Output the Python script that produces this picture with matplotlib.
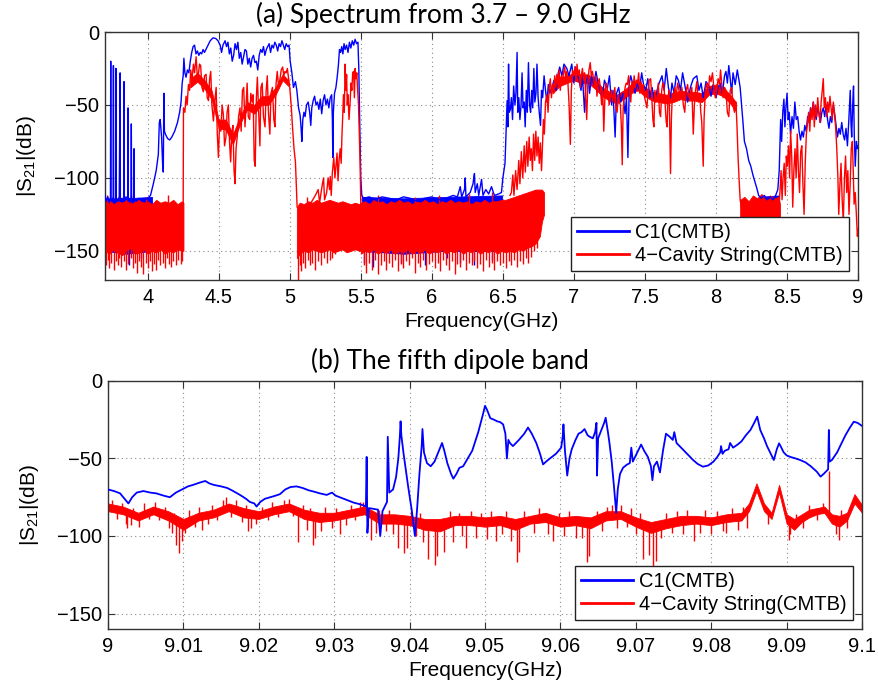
import matplotlib
matplotlib.use('Agg')
import matplotlib.pyplot as plt
import numpy as np

plt.rcParams['font.family'] = ['Liberation Sans', 'DejaVu Sans']
plt.rcParams['mathtext.default'] = 'regular'

BLUE = '#0000ff'
RED = '#ff0000'

# ---------------- (a) 3.7 - 9.0 GHz ----------------
# C1 trace, (GHz, dB)
c1_a = [
    (3.700, -112), (3.710, -116), (3.720, -113), (3.730, -117), (3.738, -114), (3.740, -20), (3.742, -115),
    (3.750, -116), (3.757, -113), (3.759, -23), (3.761, -115), (3.768, -117), (3.775, -114), (3.777, -25),
    (3.779, -115), (3.790, -116), (3.800, -113), (3.806, -28), (3.808, -116), (3.820, -114), (3.832, -115),
    (3.834, -34), (3.836, -116), (3.848, -113), (3.860, -115), (3.862, -52), (3.864, -116), (3.875, -114),
    (3.883, -116), (3.885, -63), (3.887, -115), (3.895, -117), (3.902, -113), (3.904, -80), (3.906, -115),
    (3.920, -116), (3.940, -114), (3.960, -116), (3.980, -115), (4.000, -114), (4.020, -112), (4.040, -104),
    (4.060, -95), (4.075, -84), (4.082, -62), (4.088, -60), (4.093, -66), (4.098, -72), (4.105, -90),
    (4.110, -96), (4.114, -42), (4.118, -68), (4.125, -70), (4.140, -73), (4.155, -74), (4.170, -72),
    (4.190, -68), (4.210, -62), (4.225, -55), (4.235, -48), (4.243, -35), (4.250, -30), (4.255, -18),
    (4.262, -28), (4.270, -31), (4.280, -26), (4.290, -28), (4.300, -20), (4.310, -14), (4.320, -10),
    (4.330, -9), (4.340, -15), (4.350, -13), (4.360, -16), (4.370, -14), (4.380, -15), (4.390, -12),
    (4.400, -14), (4.420, -10), (4.440, -6), (4.460, -4), (4.480, -4.5), (4.495, -6), (4.510, -9),
    (4.520, -14), (4.530, -9), (4.545, -6), (4.555, -10), (4.565, -7), (4.575, -15), (4.585, -11),
    (4.595, -20), (4.605, -16), (4.615, -8), (4.625, -12), (4.635, -7), (4.645, -18), (4.655, -14),
    (4.665, -22), (4.675, -17), (4.685, -12), (4.695, -13), (4.705, -22), (4.715, -18), (4.725, -24),
    (4.735, -18), (4.745, -16), (4.755, -21), (4.765, -20), (4.775, -26), (4.785, -16), (4.795, -12),
    (4.805, -14), (4.815, -10), (4.825, -16), (4.835, -12), (4.845, -10), (4.855, -8), (4.865, -14),
    (4.875, -9), (4.885, -11), (4.895, -7), (4.905, -9), (4.915, -13), (4.925, -8), (4.935, -10),
    (4.945, -6), (4.955, -9), (4.965, -12), (4.975, -8), (4.985, -10), (4.995, -9), (5.003, -20),
    (5.015, -28), (5.026, -38), (5.040, -34), (5.050, -40), (5.062, -52), (5.073, -57), (5.080, -66),
    (5.085, -75), (5.092, -60), (5.100, -55), (5.108, -58), (5.118, -50), (5.130, -48), (5.140, -55),
    (5.148, -64), (5.155, -52), (5.165, -47), (5.175, -44), (5.185, -50), (5.195, -48), (5.205, -53),
    (5.215, -46), (5.225, -56), (5.235, -47), (5.245, -43), (5.255, -50), (5.265, -46), (5.275, -52),
    (5.285, -45), (5.295, -43), (5.300, -60), (5.303, -86), (5.307, -55), (5.315, -42), (5.325, -38),
    (5.335, -30), (5.343, -22), (5.350, -12), (5.358, -14), (5.366, -10), (5.374, -15), (5.382, -8),
    (5.390, -12), (5.400, -9), (5.410, -14), (5.420, -7), (5.430, -11), (5.440, -6), (5.450, -9),
    (5.460, -5), (5.470, -8), (5.480, -7), (5.486, -25), (5.493, -65), (5.500, -100), (5.507, -112),
    (5.520, -114), (5.560, -113), (5.600, -115), (5.650, -113), (5.700, -114), (5.750, -115), (5.800, -113),
    (5.850, -114), (5.900, -116), (5.950, -114), (6.000, -113), (6.050, -115), (6.100, -114), (6.150, -112),
    (6.180, -113), (6.200, -106), (6.210, -113), (6.230, -108), (6.235, -100), (6.240, -113), (6.270, -110),
    (6.290, -104), (6.295, -100), (6.300, -97), (6.305, -110), (6.320, -104), (6.330, -112), (6.350, -101),
    (6.360, -112), (6.380, -108), (6.400, -111), (6.420, -106), (6.440, -112), (6.470, -111), (6.490, -110),
    (6.500, -100), (6.515, -90), (6.525, -60), (6.530, -47), (6.535, -65), (6.540, -22), (6.545, -55),
    (6.553, -53), (6.560, -45), (6.568, -60), (6.576, -37), (6.585, -50), (6.592, -42), (6.600, -14),
    (6.605, -55), (6.612, -45), (6.620, -60), (6.628, -50), (6.635, -28), (6.642, -52), (6.650, -48),
    (6.657, -65), (6.665, -40), (6.672, -55), (6.680, -21), (6.688, -50), (6.695, -55), (6.703, -40),
    (6.710, -52), (6.718, -25), (6.725, -48), (6.733, -42), (6.740, -22), (6.748, -45), (6.756, -55),
    (6.765, -64), (6.772, -40), (6.780, -45), (6.790, -30), (6.800, -40), (6.810, -48), (6.820, -36),
    (6.830, -42), (6.845, -38), (6.860, -33), (6.875, -40), (6.890, -28), (6.900, -24), (6.915, -30),
    (6.930, -22), (6.950, -25), (6.965, -30), (6.985, -22), (7.000, -35), (7.010, -24), (7.020, -28),
    (7.035, -32), (7.050, -40), (7.060, -30), (7.075, -55), (7.085, -35), (7.100, -30), (7.110, -42),
    (7.125, -30), (7.140, -36), (7.155, -27), (7.170, -35), (7.185, -40), (7.200, -45), (7.215, -33),
    (7.235, -39), (7.250, -30), (7.265, -50), (7.275, -40), (7.290, -72), (7.300, -42), (7.315, -38),
    (7.330, -48), (7.345, -42), (7.360, -56), (7.370, -45), (7.380, -86), (7.390, -35), (7.400, -30),
    (7.415, -36), (7.430, -42), (7.445, -35), (7.460, -40), (7.477, -28), (7.490, -36), (7.505, -40),
    (7.520, -32), (7.535, -45), (7.550, -38), (7.570, -48), (7.585, -40), (7.600, -35), (7.620, -30),
    (7.635, -40), (7.650, -25), (7.665, -38), (7.680, -45), (7.690, -35), (7.705, -42), (7.720, -30),
    (7.735, -33), (7.750, -40), (7.765, -28), (7.780, -36), (7.800, -48), (7.820, -38), (7.840, -32),
    (7.865, -30), (7.880, -40), (7.895, -35), (7.910, -45), (7.930, -34), (7.950, -37), (7.965, -44),
    (7.980, -36), (8.000, -45), (8.015, -38), (8.030, -35), (8.045, -42), (8.060, -30), (8.070, -27),
    (8.080, -35), (8.090, -23), (8.100, -32), (8.110, -42), (8.120, -28), (8.135, -36), (8.150, -26),
    (8.160, -32), (8.170, -38), (8.180, -50), (8.190, -62), (8.200, -75), (8.215, -80), (8.230, -88),
    (8.245, -92), (8.260, -98), (8.275, -103), (8.290, -108), (8.300, -112), (8.320, -114), (8.340, -112),
    (8.360, -115), (8.380, -113), (8.400, -115), (8.420, -112), (8.435, -108), (8.445, -95), (8.455, -60),
    (8.462, -75), (8.470, -55), (8.478, -46), (8.485, -65), (8.492, -52), (8.500, -42), (8.508, -60),
    (8.515, -55), (8.525, -70), (8.535, -58), (8.545, -66), (8.555, -48), (8.565, -60), (8.575, -58),
    (8.585, -68), (8.595, -74), (8.605, -68), (8.615, -72), (8.625, -64), (8.635, -68), (8.645, -58),
    (8.655, -62), (8.665, -52), (8.675, -56), (8.685, -48), (8.695, -55), (8.705, -60), (8.715, -52),
    (8.725, -56), (8.735, -62), (8.745, -55), (8.755, -52), (8.765, -58), (8.775, -50), (8.785, -60),
    (8.795, -66), (8.805, -58), (8.815, -62), (8.825, -50), (8.835, -56), (8.845, -64), (8.855, -72),
    (8.865, -66), (8.875, -70), (8.885, -62), (8.895, -70), (8.905, -74), (8.915, -66), (8.925, -78),
    (8.935, -60), (8.945, -40), (8.950, -62), (8.955, -72), (8.962, -50), (8.968, -37), (8.973, -70),
    (8.980, -92), (8.988, -75), (8.995, -80), (9.000, -78),
]

# C1 noise floor (GHz, upper dB, lower dB)
c1_a_floor = [
    [(3.700, -114, -150), (3.850, -114, -152), (4.030, -113, -150)],
    [(5.507, -113, -150), (5.800, -114, -152), (6.100, -113, -150), (6.495, -112, -150)],
    [(8.300, -113, -145), (8.445, -112, -145)],
]
c1_a_spikes = [(3.868, -160), (3.950, -155), (5.525, -158), (5.587, -161), (5.780, -158),
               (5.950, -160), (6.110, -155), (6.200, -158), (6.300, -160), (6.420, -156)]

# 4-cavity string trace, (GHz, dB); None separates pieces
str_a = [
    (4.250, -118), (4.252, -52), (4.262, -55), (4.270, -44), (4.278, -50), (4.287, -36), (4.295, -40),
    (4.303, -26), (4.312, -33), (4.322, -22), (4.330, -28), (4.341, -17), (4.349, -30), (4.357, -29),
    (4.365, -22), (4.373, -23), (4.382, -38), (4.392, -41), (4.400, -30), (4.411, -29), (4.419, -45),
    (4.428, -47), (4.436, -32), (4.444, -27), (4.452, -50), (4.463, -61), (4.472, -48), (4.482, -38),
    (4.490, -70), (4.498, -86), (4.506, -62), (4.515, -68), (4.524, -50), (4.533, -57), (4.541, -78),
    (4.551, -72), (4.559, -55), (4.568, -50), (4.576, -75), (4.584, -89), (4.592, -70), (4.600, -64),
    (4.608, -95), (4.615, -104), (4.622, -80), (4.630, -72), (4.640, -58), (4.650, -52), (4.658, -68),
    (4.667, -40), (4.676, -38), (4.685, -65), (4.693, -50), (4.700, -35), (4.708, -58), (4.718, -60),
    (4.726, -42), (4.735, -48), (4.742, -43), (4.750, -88), (4.757, -92), (4.765, -45), (4.772, -31),
    (4.780, -52), (4.790, -78), (4.797, -38), (4.806, -35), (4.815, -58), (4.826, -65), (4.834, -40),
    (4.842, -30), (4.850, -55), (4.860, -70), (4.868, -42), (4.878, -38), (4.888, -60), (4.896, -65),
    (4.904, -35), (4.912, -27), (4.922, -38), (4.930, -33), (4.940, -26), (4.950, -24), (4.958, -30),
    (4.966, -27), (4.975, -28), (4.983, -25), (4.992, -32), (5.000, -38), (5.010, -50), (5.020, -66),
    (5.030, -80), (5.040, -89), (5.046, -105), (5.052, -120),
    None,
    (5.150, -117), (5.180, -112), (5.200, -108), (5.210, -117), (5.230, -104), (5.238, -100), (5.245, -115),
    (5.260, -110), (5.270, -100), (5.280, -108), (5.285, -99), (5.292, -112), (5.300, -96), (5.310, -86),
    (5.318, -100), (5.325, -92), (5.333, -83), (5.340, -102), (5.347, -88), (5.355, -80), (5.362, -90),
    (5.367, -72), (5.372, -60), (5.378, -43), (5.384, -55), (5.390, -22), (5.395, -40), (5.400, -29),
    (5.405, -50), (5.410, -43), (5.417, -60), (5.425, -48), (5.431, -35), (5.437, -40), (5.443, -28),
    (5.449, -27), (5.455, -45), (5.460, -25), (5.466, -32), (5.472, -28), (5.478, -40), (5.484, -50),
    (5.490, -70), (5.495, -89), (5.500, -118),
    None,
    (6.550, -112), (6.560, -110), (6.570, -98), (6.578, -112), (6.590, -95), (6.600, -108), (6.612, -88),
    (6.620, -104), (6.630, -82), (6.640, -100), (6.650, -78), (6.658, -96), (6.668, -75), (6.676, -92),
    (6.685, -72), (6.693, -88), (6.700, -80), (6.708, -95), (6.716, -70), (6.724, -88), (6.732, -68),
    (6.740, -85), (6.748, -72), (6.756, -90), (6.764, -76), (6.772, -95), (6.778, -80), (6.785, -60),
    (6.792, -70), (6.800, -48), (6.810, -43), (6.818, -55), (6.826, -38), (6.834, -32), (6.842, -45),
    (6.850, -36), (6.857, -42), (6.865, -30), (6.873, -38), (6.880, -29), (6.888, -36), (6.896, -26),
    (6.904, -40), (6.912, -30), (6.920, -35), (6.927, -28), (6.935, -24), (6.943, -32), (6.950, -27),
    (6.958, -35), (6.966, -50), (6.975, -77), (6.982, -40), (6.990, -26), (7.000, -30), (7.008, -24),
    (7.015, -34), (7.022, -22), (7.030, -30), (7.038, -26), (7.045, -38), (7.052, -30), (7.060, -25),
    (7.068, -33), (7.075, -28), (7.083, -45), (7.090, -60), (7.098, -35), (7.106, -26), (7.115, -21),
    (7.122, -30), (7.130, -27), (7.140, -33), (7.148, -38), (7.155, -30), (7.162, -44), (7.170, -35),
    (7.178, -32), (7.186, -38), (7.195, -50), (7.203, -40), (7.210, -68), (7.218, -45), (7.226, -35),
    (7.233, -38), (7.241, -42), (7.248, -50), (7.256, -45), (7.264, -40), (7.272, -48), (7.280, -43),
    (7.288, -38), (7.296, -52), (7.304, -55), (7.312, -45), (7.320, -48), (7.327, -50), (7.334, -65),
    (7.340, -91), (7.346, -55), (7.352, -45), (7.360, -38), (7.368, -35), (7.376, -36), (7.385, -30),
    (7.393, -42), (7.400, -48), (7.408, -34), (7.416, -40), (7.424, -30), (7.432, -38), (7.440, -33),
    (7.448, -35), (7.456, -28), (7.464, -42), (7.472, -34), (7.480, -38), (7.488, -36), (7.496, -44),
    (7.505, -48), (7.514, -52), (7.522, -40), (7.530, -33), (7.540, -32), (7.548, -45), (7.556, -60),
    (7.563, -65), (7.570, -40), (7.578, -48), (7.586, -45), (7.594, -35), (7.602, -55), (7.610, -58),
    (7.618, -40), (7.626, -35), (7.633, -36), (7.642, -50), (7.650, -62), (7.656, -65), (7.662, -45),
    (7.670, -40), (7.676, -75), (7.680, -97), (7.686, -60), (7.693, -42), (7.700, -47), (7.710, -38),
    (7.720, -44), (7.730, -35), (7.740, -40), (7.750, -45), (7.760, -38), (7.770, -50), (7.780, -55),
    (7.790, -40), (7.800, -36), (7.810, -45), (7.820, -42), (7.830, -38), (7.840, -70), (7.848, -50),
    (7.856, -40), (7.865, -34), (7.875, -48), (7.885, -42), (7.893, -55), (7.900, -62), (7.906, -80),
    (7.910, -92), (7.916, -60), (7.925, -40), (7.935, -35), (7.945, -42), (7.955, -30), (7.965, -34),
    (7.975, -28), (7.985, -38), (7.995, -45), (8.005, -40), (8.015, -32), (8.025, -36), (8.032, -26),
    (8.040, -35), (8.050, -45), (8.060, -38), (8.070, -40), (8.080, -55), (8.090, -58), (8.100, -40),
    (8.110, -38), (8.120, -50), (8.130, -55), (8.140, -48), (8.148, -65), (8.155, -85), (8.162, -100),
    (8.170, -115), (8.180, -120),
    None,
    (8.440, -120), (8.450, -110), (8.458, -95), (8.465, -115), (8.472, -100), (8.480, -90), (8.488, -112),
    (8.495, -85), (8.502, -92), (8.510, -78), (8.518, -100), (8.525, -68), (8.533, -85), (8.540, -120),
    (8.548, -95), (8.556, -80), (8.564, -100), (8.572, -70), (8.580, -95), (8.588, -110), (8.596, -82),
    (8.604, -78), (8.612, -105), (8.620, -125), (8.628, -90), (8.636, -70), (8.644, -62), (8.652, -55),
    (8.660, -68), (8.668, -52), (8.676, -60), (8.684, -48), (8.692, -65), (8.700, -50), (8.708, -58),
    (8.716, -45), (8.724, -55), (8.732, -62), (8.740, -48), (8.748, -40), (8.755, -32), (8.762, -52),
    (8.770, -45), (8.778, -58), (8.786, -48), (8.794, -55), (8.802, -44), (8.810, -52), (8.818, -60),
    (8.826, -48), (8.834, -56), (8.842, -65), (8.850, -80), (8.858, -100), (8.864, -125), (8.872, -105),
    (8.880, -90), (8.888, -115), (8.896, -130), (8.904, -100), (8.912, -85), (8.920, -110), (8.928, -95),
    (8.936, -125), (8.944, -105), (8.952, -80), (8.960, -75), (8.966, -95), (8.972, -118), (8.980, -110),
    (8.988, -125), (8.995, -140), (9.000, -135),
]

# 4-cavity string dense regions (GHz, upper dB, lower dB)
str_a_floor = [
    [(3.700, -117, -150), (3.730, -115, -152), (3.760, -118, -149), (3.790, -116, -151), (3.820, -117, -153),
     (3.850, -115, -150), (3.880, -118, -148), (3.910, -116, -152), (3.940, -115, -151), (3.970, -117, -149),
     (4.000, -116, -152), (4.030, -118, -150), (4.060, -115, -151), (4.090, -117, -149), (4.120, -116, -152),
     (4.150, -117, -150), (4.180, -115, -151), (4.210, -118, -149), (4.240, -116, -150), (4.252, -117, -150)],
    [(5.050, -120, -155), (5.070, -117, -152), (5.100, -118, -150), (5.130, -116, -151), (5.160, -117, -149),
     (5.190, -115, -150), (5.220, -117, -151), (5.250, -116, -150), (5.280, -115, -149), (5.310, -116, -151),
     (5.340, -117, -150), (5.370, -116, -149), (5.400, -117, -151), (5.430, -118, -150), (5.460, -117, -149),
     (5.490, -118, -150), (5.500, -117, -150)],
    [(5.500, -117, -152), (5.530, -116, -150), (5.560, -118, -151), (5.590, -115, -149), (5.620, -117, -152),
     (5.650, -116, -150), (5.680, -118, -151), (5.710, -116, -149), (5.740, -117, -152), (5.770, -115, -150),
     (5.800, -117, -151), (5.830, -116, -149), (5.860, -118, -152), (5.890, -116, -150), (5.920, -117, -151),
     (5.950, -115, -149), (5.980, -117, -152), (6.010, -116, -150), (6.040, -118, -151), (6.070, -116, -149),
     (6.100, -117, -152), (6.130, -115, -150), (6.160, -117, -151), (6.190, -116, -149), (6.220, -117, -152),
     (6.250, -116, -150), (6.280, -118, -151), (6.310, -116, -149), (6.340, -117, -152), (6.370, -115, -150),
     (6.400, -117, -151), (6.430, -116, -149), (6.460, -116, -152), (6.490, -115, -150), (6.520, -115, -151),
     (6.550, -114, -150), (6.580, -113, -151), (6.610, -112, -149), (6.640, -111, -150), (6.670, -110, -148),
     (6.700, -109, -147), (6.730, -108, -145), (6.760, -108, -140), (6.775, -108, -130), (6.790, -110, -125)],
    [(8.170, -115, -130), (8.200, -113, -145), (8.230, -116, -145), (8.260, -112, -145), (8.290, -114, -145),
     (8.320, -111, -145), (8.350, -115, -145), (8.380, -112, -145), (8.410, -114, -145), (8.440, -113, -145),
     (8.450, -118, -145)],
    [(4.300, -32, -38), (4.350, -28, -34), (4.400, -33, -39), (4.450, -40, -46), (4.500, -60, -66),
     (4.550, -60, -67), (4.600, -70, -77), (4.650, -58, -63), (4.700, -48, -53), (4.750, -50, -56),
     (4.800, -44, -50), (4.850, -44, -50), (4.900, -38, -43), (4.950, -29, -33), (4.990, -33, -37)],
    [(6.850, -36, -42), (6.900, -31, -37), (6.950, -30, -35), (7.000, -28, -33), (7.050, -29, -35),
     (7.100, -29, -35), (7.150, -33, -39), (7.200, -38, -44), (7.250, -41, -47), (7.300, -43, -49),
     (7.350, -40, -46), (7.400, -36, -42), (7.450, -34, -40), (7.500, -38, -44), (7.550, -41, -47),
     (7.600, -42, -48), (7.650, -43, -49), (7.700, -42, -48), (7.750, -40, -46), (7.800, -41, -47),
     (7.850, -41, -47), (7.900, -42, -48), (7.950, -37, -43), (8.000, -36, -42), (8.050, -38, -44),
     (8.100, -43, -49), (8.140, -48, -54)],
]
str_a_spikes = [
    (3.705, -160), (3.720, -156), (3.730, -162), (3.745, -158), (3.760, -163), (3.775, -157), (3.790, -160),
    (3.800, -155), (3.815, -161), (3.830, -157), (3.845, -163), (3.860, -159), (3.880, -155), (3.895, -162),
    (3.910, -158), (3.925, -165), (3.940, -157), (3.955, -161), (3.970, -166), (3.985, -158), (4.000, -162),
    (4.015, -157), (4.030, -164), (4.045, -159), (4.060, -163), (4.075, -156), (4.090, -160), (4.105, -158),
    (4.120, -162), (4.135, -155), (4.150, -159), (4.165, -161), (4.180, -157), (4.200, -160), (4.215, -156),
    (4.235, -159), (4.245, -157), (5.058, -170), (5.070, -160), (5.080, -164), (5.095, -158), (5.110, -162),
    (5.125, -156), (5.140, -160), (5.160, -158), (5.180, -163), (5.200, -157), (5.220, -160), (5.240, -155),
    (5.260, -158), (5.280, -156), (5.300, -155), (5.320, -152), (5.520, -160), (5.540, -165), (5.560, -158),
    (5.580, -163), (5.600, -156), (5.620, -166), (5.640, -160), (5.660, -157), (5.680, -163), (5.700, -158),
    (5.720, -161), (5.740, -156), (5.760, -164), (5.780, -159), (5.800, -162), (5.820, -157), (5.840, -160),
    (5.860, -155), (5.880, -165), (5.900, -158), (5.920, -161), (5.940, -156), (5.960, -163), (5.980, -159),
    (6.000, -157), (6.020, -162), (6.040, -158), (6.060, -164), (6.080, -156), (6.100, -160), (6.120, -163),
    (6.140, -157), (6.160, -166), (6.180, -159), (6.200, -161), (6.220, -156), (6.240, -163), (6.260, -158),
    (6.280, -160), (6.300, -157), (6.320, -162), (6.340, -159), (6.360, -164), (6.380, -156), (6.400, -161),
    (6.420, -158), (6.440, -163), (6.460, -157), (6.480, -160), (6.500, -158), (6.520, -162), (6.540, -157),
    (6.560, -160), (6.580, -156), (6.600, -161), (6.620, -157), (6.640, -159), (6.660, -155), (6.680, -158),
    (6.700, -154), (6.720, -150), (6.740, -148),
    (3.715, -112), (3.790, -113), (3.880, -112), (3.990, -113), (4.140, -112), (5.120, -113), (5.620, -112),
    (5.880, -113), (6.050, -112), (6.260, -111), (6.420, -110),
]

# ---------------- (b) fifth dipole band ----------------
c1_b = [
    (9.0000, -70), (9.0008, -71), (9.0016, -72.5), (9.0022, -76), (9.0027, -79), (9.0032, -75), (9.0038, -72),
    (9.0047, -71), (9.0056, -72), (9.0064, -72.5), (9.0074, -74), (9.0082, -75), (9.0090, -72), (9.0098, -70),
    (9.0106, -68), (9.0113, -67), (9.0122, -65.5), (9.0129, -64.5), (9.0134, -66), (9.0140, -67), (9.0150, -68),
    (9.0158, -69), (9.0166, -71), (9.0175, -73.5), (9.0183, -76), (9.0188, -78), (9.0194, -79), (9.0197, -81),
    (9.0202, -78), (9.0208, -76), (9.0215, -75), (9.0222, -74), (9.0228, -73), (9.0235, -70), (9.0242, -68.4),
    (9.0250, -68), (9.0258, -69), (9.0266, -70.5), (9.0274, -71.5), (9.0281, -72.5), (9.0290, -73.5),
    (9.0297, -72), (9.0302, -74), (9.0310, -75.5), (9.0318, -77), (9.0326, -78.5), (9.0334, -79.5),
    (9.0340, -80.5), (9.0342, -81), (9.0343, -49), (9.0344, -98), (9.0346, -82), (9.0352, -82.5),
    (9.0358, -83), (9.0361, -100), (9.0364, -84), (9.0368, -80), (9.0370, -78), (9.0371, -36), (9.0373, -72),
    (9.0378, -70), (9.0382, -62), (9.0385, -50), (9.0387, -36), (9.0388, -26), (9.0389, -35), (9.0392, -47),
    (9.0398, -68), (9.0403, -84), (9.0407, -100), (9.0410, -82), (9.0413, -60), (9.0416, -42), (9.0417, -31),
    (9.0419, -46), (9.0423, -53), (9.0428, -55), (9.0433, -52), (9.0438, -46), (9.0443, -40), (9.0446, -45),
    (9.0450, -53), (9.0455, -60), (9.0458, -63), (9.0462, -60), (9.0466, -56), (9.0471, -55), (9.0477, -50),
    (9.0483, -45), (9.0491, -33), (9.0497, -22), (9.0500, -16), (9.0503, -19), (9.0507, -24), (9.0512, -25),
    (9.0516, -26), (9.0520, -26.5), (9.0524, -28), (9.0527, -34), (9.0529, -50), (9.0531, -38), (9.0533, -40),
    (9.0537, -42), (9.0545, -38), (9.0552, -34), (9.0557, -30), (9.0562, -34), (9.0568, -40), (9.0573, -47),
    (9.0577, -53.8), (9.0581, -52), (9.0586, -50), (9.0594, -47), (9.0601, -43), (9.0603, -36), (9.0604, -28),
    (9.0606, -45), (9.0609, -61), (9.0612, -50), (9.0615, -44), (9.0620, -38), (9.0624, -34), (9.0628, -33),
    (9.0632, -31), (9.0636, -35), (9.0639, -36), (9.0643, -37), (9.0646, -33), (9.06478, -27), (9.06485, -61),
    (9.0650, -37), (9.0654, -32), (9.0658, -27), (9.0660, -23.7), (9.0663, -33), (9.0665, -40), (9.0668, -52),
    (9.0671, -68), (9.0674, -85), (9.0676, -70), (9.0679, -60), (9.0683, -56), (9.0688, -54), (9.0692, -53),
    (9.0694, -43), (9.0696, -52), (9.0700, -48), (9.0704, -44), (9.0707, -41), (9.0711, -45), (9.0716, -49),
    (9.0720, -55), (9.0722, -64), (9.0724, -55), (9.0728, -52), (9.0732, -59), (9.0736, -45), (9.0740, -34),
    (9.0745, -36), (9.0749, -38), (9.0751, -33), (9.0754, -40), (9.0758, -42), (9.0763, -44.5), (9.0770, -48),
    (9.0776, -51), (9.0782, -53.5), (9.0789, -55.3), (9.0796, -54.5), (9.0803, -52), (9.0808, -49),
    (9.0812, -46), (9.0813, -42), (9.0815, -47), (9.0818, -45), (9.0823, -44), (9.0825, -40), (9.0829, -43),
    (9.0835, -41), (9.0840, -39), (9.0846, -35), (9.0852, -31.6), (9.0857, -27), (9.0861, -23), (9.0865, -31.6),
    (9.0870, -37), (9.0874, -42), (9.0880, -48), (9.0883, -51), (9.0887, -44), (9.0890, -40.2), (9.0893, -43),
    (9.0896, -46), (9.0900, -48), (9.0905, -49), (9.0912, -50), (9.0918, -51), (9.0925, -52.5), (9.0932, -55),
    (9.0940, -58.5), (9.0945, -61.7), (9.0949, -60), (9.0953, -58), (9.0955, -57), (9.0956, -31.6),
    (9.0957, -52), (9.0960, -51), (9.0967, -46), (9.0973, -40), (9.0978, -35), (9.0984, -30), (9.0989, -26.3),
    (9.0994, -27), (9.1000, -29),
]

# 4-cavity string band (GHz, upper dB, lower dB)
str_b_band = [
    (9.000, -79, -84), (9.002, -81, -86), (9.004, -85, -90), (9.006, -81, -86), (9.008, -84, -90),
    (9.010, -89, -96), (9.012, -85, -90), (9.014, -83, -88), (9.016, -79, -84), (9.018, -82, -88),
    (9.020, -84, -89), (9.022, -81, -86), (9.024, -79, -84), (9.026, -83, -89), (9.028, -85, -91),
    (9.030, -85, -90), (9.032, -83, -88), (9.034, -81, -86), (9.036, -86, -92), (9.038, -86, -92),
    (9.040, -87, -93), (9.042, -89, -96), (9.044, -89, -97), (9.046, -87, -93), (9.048, -87, -93),
    (9.050, -88, -94), (9.052, -87, -93), (9.054, -89, -96), (9.056, -87, -92), (9.058, -85, -91),
    (9.060, -88, -94), (9.062, -87, -93), (9.064, -88, -95), (9.066, -84, -90), (9.068, -84, -89),
    (9.070, -88, -94), (9.072, -91, -98), (9.074, -89, -95), (9.076, -87, -93), (9.078, -87, -92),
    (9.080, -88, -93), (9.082, -86, -91), (9.084, -85, -90), (9.085, -79, -84), (9.086, -66, -71),
    (9.087, -79, -84), (9.088, -85, -89), (9.089, -67, -72), (9.090, -86, -92), (9.091, -89, -96),
    (9.092, -86, -91), (9.093, -83, -88), (9.094, -82, -86), (9.095, -81, -85), (9.096, -86, -92),
    (9.097, -87, -94), (9.098, -85, -90), (9.099, -73, -79), (9.100, -80, -85),
]
str_b_spikes = [
    (9.0025, -95), (9.0030, -93), (9.0085, -98), (9.0090, -106), (9.0094, -111), (9.0098, -103),
    (9.0125, -96), (9.0186, -97), (9.0190, -95), (9.0252, -103.6), (9.0272, -105.7), (9.0275, -101),
    (9.0308, -98.5), (9.0349, -102.5), (9.0385, -107.8), (9.0393, -111), (9.0396, -108), (9.0425, -115),
    (9.0433, -118.8), (9.0436, -113), (9.0446, -110), (9.0475, -108), (9.0515, -103), (9.0542, -117),
    (9.0545, -110), (9.0590, -103), (9.0621, -101), (9.0635, -117), (9.0638, -113), (9.0709, -115),
    (9.0718, -112), (9.0723, -120.5), (9.0727, -116), (9.0777, -103), (9.0820, -98), (9.0903, -102.5),
    (9.0969, -102.5), (9.0956, -58), (9.0157, -75), (9.0240, -76), (9.0334, -78), (9.0669, -80),
    (9.0005, -77), (9.0012, -89), (9.0018, -79), (9.0024, -92), (9.0033, -82), (9.0041, -94), (9.0048, -79),
    (9.0055, -89), (9.0062, -78), (9.0068, -90), (9.0075, -81), (9.0081, -95), (9.0088, -85), (9.0102, -98),
    (9.0108, -83), (9.0115, -94), (9.0121, -81), (9.0133, -92), (9.0138, -80), (9.0145, -90), (9.0152, -77),
    (9.0163, -88), (9.0170, -77), (9.0178, -91), (9.0183, -80), (9.0196, -92), (9.0204, -81), (9.0212, -90),
    (9.0218, -78), (9.0226, -88), (9.0233, -77), (9.0245, -87), (9.0258, -80), (9.0264, -96), (9.0268, -82),
    (9.0283, -97), (9.0288, -81), (9.0297, -95), (9.0303, -82), (9.0315, -93), (9.0322, -80), (9.0328, -90),
    (9.0338, -78), (9.0355, -98), (9.0360, -83), (9.0368, -97), (9.0372, -83), (9.0378, -99), (9.0402, -84),
    (9.0408, -100), (9.0414, -85), (9.0418, -104), (9.0453, -84), (9.0458, -104), (9.0465, -85),
    (9.0470, -100), (9.0482, -84), (9.0488, -101), (9.0495, -85), (9.0502, -102), (9.0508, -84),
    (9.0522, -99), (9.0528, -84), (9.0535, -103), (9.0552, -84), (9.0565, -98), (9.0572, -82), (9.0583, -99),
    (9.0598, -85), (9.0605, -100), (9.0612, -84), (9.0628, -101), (9.0648, -84), (9.0655, -97), (9.0662, -81),
    (9.0675, -95), (9.0680, -80), (9.0688, -94), (9.0693, -82), (9.0700, -99), (9.0705, -85), (9.0733, -101),
    (9.0740, -85), (9.0748, -98), (9.0755, -84), (9.0762, -99), (9.0768, -83), (9.0785, -98), (9.0792, -83),
    (9.0800, -99), (9.0808, -84), (9.0815, -97), (9.0828, -82), (9.0835, -96), (9.0842, -81), (9.0848, -95),
    (9.0875, -92), (9.0905, -99), (9.0912, -86), (9.0922, -95), (9.0930, -80), (9.0940, -90), (9.0948, -79),
    (9.0965, -99), (9.0972, -83), (9.0980, -95), (9.0992, -78),
]

xticks_a = [4, 4.5, 5, 5.5, 6, 6.5, 7, 7.5, 8, 8.5, 9]
xtick_labels_a = ['4', '4.5', '5', '5.5', '6', '6.5', '7', '7.5', '8', '8.5', '9']
xticks_b = [9.0, 9.01, 9.02, 9.03, 9.04, 9.05, 9.06, 9.07, 9.08, 9.09, 9.1]
xtick_labels_b = ['9', '9.01', '9.02', '9.03', '9.04', '9.05', '9.06', '9.07', '9.08', '9.09', '9.1']
yticks = [-150, -100, -50, 0]

labels = ['C1(CMTB)', '4\u2212Cavity String(CMTB)']


def trace(ax, pts, color, label=None, lw=1.0):
    # None entries split the trace into separate pieces
    xs = [np.nan if p is None else p[0] for p in pts]
    ys = [np.nan if p is None else p[1] for p in pts]
    ax.plot(xs, ys, color=color, lw=lw, label=label, zorder=3)


def band(ax, rows, color):
    f, hi, lo = np.array(rows).T
    ax.fill_between(f, lo, hi, color=color, lw=0.6, zorder=2)


def spikes(ax, pts, base, color):
    f, v = np.array(pts).T
    if callable(base):
        base = base(f)
    ax.vlines(f, base, v, color=color, lw=1.0, zorder=2)


def style(ax, xlim, ylim, xticks, xlabels):
    ax.set_xlim(*xlim)
    ax.set_ylim(*ylim)
    ax.set_xticks(xticks)
    ax.set_xticklabels(xlabels)
    ax.set_yticks(yticks)
    ax.tick_params(direction='in', top=True, right=True, length=5, width=0.8,
                   labelsize=14.5, pad=6, color='#333333')
    ax.tick_params(axis='y', pad=4)
    ax.grid(True, linestyle=(0, (1, 3)), color='#8a8a8a', linewidth=0.8)
    ax.set_axisbelow(True)
    for s in ax.spines.values():
        s.set_color('#333333')
        s.set_linewidth(1.0)
    ax.set_xlabel('Frequency(GHz)', fontsize=15, labelpad=3)
    ax.set_ylabel('|S$_{21}$|(dB)', fontsize=15, labelpad=12)
    leg = ax.legend(loc='lower right', fontsize=14.5, frameon=True, fancybox=False,
                    edgecolor='#222222', framealpha=1, borderpad=0.3, labelspacing=0.2,
                    handlelength=2.6, handletextpad=0.3, borderaxespad=0.45)
    leg.get_frame().set_linewidth(1.0)
    for h in leg.get_lines():
        h.set_linewidth(2.0)


fig = plt.figure(figsize=(8.79, 6.84), dpi=100)
ax1 = fig.add_axes([0.1195, 0.5906, 0.8567, 0.3626])
ax2 = fig.add_axes([0.1229, 0.0804, 0.8578, 0.3626])

# (a)
for seg in c1_a_floor:
    band(ax1, seg, BLUE)
spikes(ax1, c1_a_spikes, -140, BLUE)
trace(ax1, c1_a, BLUE, labels[0])
for seg in str_a_floor:
    band(ax1, seg, RED)
spikes(ax1, str_a_spikes, -135, RED)
trace(ax1, str_a, RED, labels[1])
style(ax1, (3.7, 9.0), (-170, 0), xticks_a, xtick_labels_a)

# (b)
trace(ax2, c1_b, BLUE, labels[0], lw=1.3)
band(ax2, str_b_band, RED)
bf, bhi, blo = np.array(str_b_band).T
spikes(ax2, str_b_spikes, lambda f: np.interp(f, bf, (bhi + blo) / 2), RED)
ax2.plot([], [], color=RED, lw=1.0, label=labels[1])
style(ax2, (9.0, 9.1), (-160, 0), xticks_b, xtick_labels_b)

fig.text(0.504, 0.978, '(a) Spectrum from 3.7 \u2013 9.0 GHz', ha='center', va='center',
         fontsize=19, family=['Lato', 'DejaVu Sans'])
fig.text(0.512, 0.472, '(b) The fifth dipole band', ha='center', va='center',
         fontsize=19, family=['Lato', 'DejaVu Sans'])

fig.savefig('out.png', dpi=100)
